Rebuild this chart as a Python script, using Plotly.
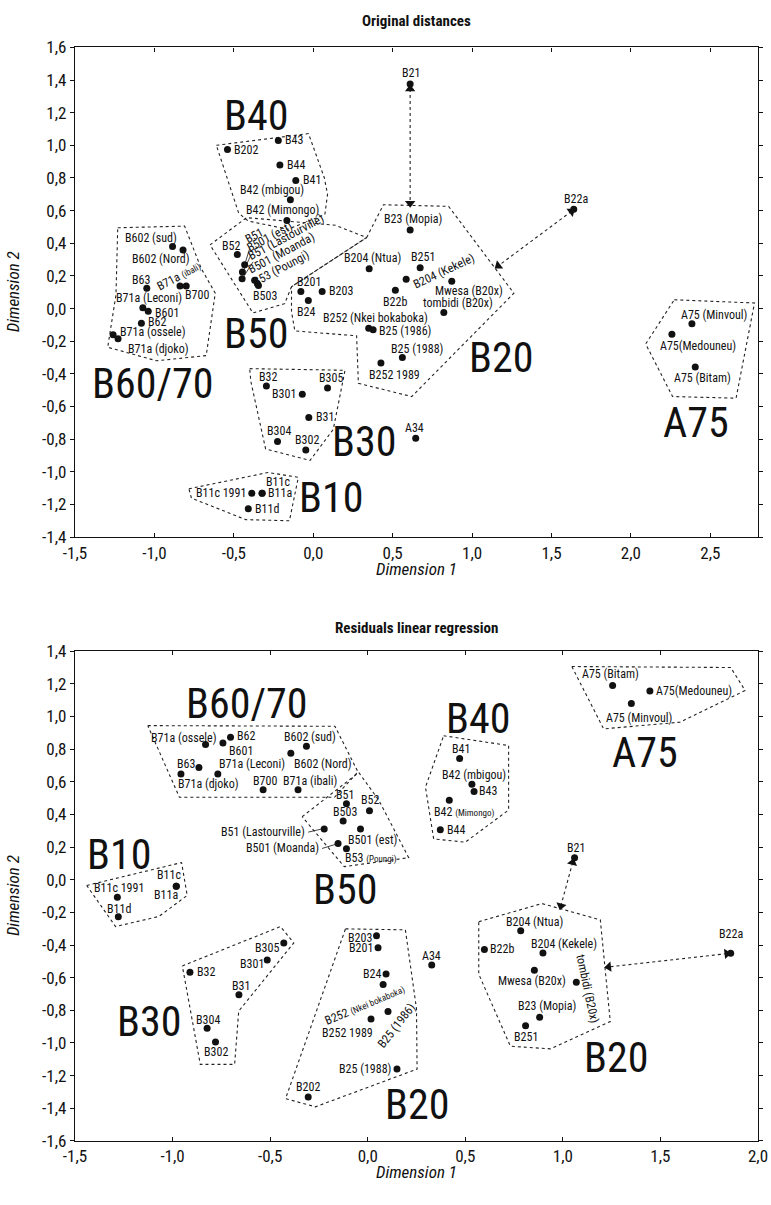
import math
import plotly.graph_objects as go

FONT = "Liberation Sans Narrow, Arial Narrow, Roboto Condensed, Liberation Sans, sans-serif"

# ---------------- Top chart: Original distances ----------------
top_names = ["B21", "B202", "B43", "B44", "B41", "B42 (mbigou)", "B42 (Mimongo)", "B23 (Mopia)", "B22a",
             "B602 (sud)", "B602 (Nord)", "B63", "B71a (ibali)", "B700", "B71a (Leconi)", "B601", "B62",
             "B71a (ossele)", "B71a (djoko)", "B52", "B51", "B501 (est)", "B51 (Lastourville)",
             "B501 (Moanda)", "B53 (Poungi)", "B503", "B201", "B203", "B24", "B204 (Ntua)", "B251",
             "B204 (Kekele)", "Mwesa (B20x)", "B22b", "tombidi (B20x)", "B252 (Nkei bokaboka)",
             "B25 (1986)", "B25 (1988)", "B252 1989", "A75 (Minvoul)", "A75(Medouneu)", "A75 (Bitam)",
             "B32", "B305", "B301", "B31", "B304", "B302", "A34", "B11c 1991", "B11a", "B11c", "B11d"]
top_x = [0.61, -0.54, -0.22, -0.21, -0.11, -0.144, -0.166, 0.61, 1.64,
         -0.886, -0.82, -1.048, -0.839, -0.80, -1.073, -1.039, -1.082,
         -1.26, -1.229, -0.478, -0.432, -0.446, -0.448,
         -0.369, -0.352, -0.345, -0.078, 0.056, -0.031, 0.352, 0.673,
         0.585, 0.872, 0.517, 0.822, 0.349,
         0.377, 0.561, 0.426, 2.384, 2.258, 2.405,
         -0.295, 0.09, -0.069, -0.028, -0.225, -0.047, 0.645, -0.387, -0.322, -0.322, -0.409]
top_y = [1.375, 0.975, 1.03, 0.88, 0.785, 0.666, 0.539, 0.481, 0.608,
         0.38, 0.359, 0.124, 0.138, 0.138, 0.005, -0.016, -0.09,
         -0.16, -0.185, 0.331, 0.269, 0.224, 0.182,
         0.174, 0.152, 0.142, 0.105, 0.105, 0.05, 0.244, 0.25,
         0.179, 0.167, 0.112, -0.024, -0.121,
         -0.13, -0.30, -0.333, -0.093, -0.157, -0.358,
         -0.475, -0.487, -0.525, -0.667, -0.815, -0.866, -0.795, -1.131, -1.131, -1.131, -1.226]

top_groups = ["B40", "B50", "B60/70", "B20", "B30", "B10", "A75"]
top_group_x = [-0.36, -0.36, -1.01, 1.18, 0.32, 0.11, 2.41]
top_group_y = [1.18, -0.15, -0.46, -0.30, -0.815, -1.16, -0.70]

top_hulls = {
    "B40": ([-0.61, -0.03, 0.07, 0.09, 0.073, -0.158, -0.41, -0.47],
            [1.0, 1.072, 0.80, 0.70, 0.576, 0.486, 0.536, 0.586]),
    "B50": ([-0.65, -0.42, 0.14, 0.336, -0.137, -0.18, -0.38],
            [0.39, 0.557, 0.51, 0.435, 0.134, 0.03, -0.027]),
    "B20": ([0.336, 0.442, 0.852, 1.263, 0.62, 0.284, 0.273, -0.116, -0.137, -0.137],
            [0.435, 0.636, 0.626, 0.094, -0.539, -0.458, -0.167, -0.137, -0.017, 0.134]),
    "B60/70": ([-1.231, -0.81, -0.705, -0.617, -0.674, -0.986, -1.294, -1.242],
               [0.495, 0.505, 0.245, 0.094, -0.288, -0.32, -0.237, 0.084]),
    "B30": ([-0.40, 0.20, 0.126, -0.02, -0.30, -0.393],
            [-0.368, -0.378, -0.74, -0.93, -0.86, -0.446]),
    "B10": ([-0.783, -0.284, -0.094, -0.15, -0.425, -0.767],
            [-1.104, -1.004, -1.034, -1.30, -1.293, -1.161]),
    "A75": ([2.273, 2.778, 2.662, 2.262, 2.093],
            [0.054, 0.034, -0.549, -0.539, -0.217]),
}
# double-headed dotted arrows: (tip1, tip2)
top_arrows = [((0.61, 1.345), (0.61, 0.645)), ((1.625, 0.595), (1.165, 0.262))]

# ---------------- Bottom chart: Residuals linear regression ----------------
bot_names = ["A75 (Bitam)", "A75(Medouneu)", "A75 (Minvoul)", "B71a (ossele)", "B62", "B601", "B602 (sud)",
             "B602 (Nord)", "B63", "B71a (djoko)", "B71a (Leconi)", "B700", "B71a (ibali)",
             "B51", "B52", "B503", "B51 (Lastourville)", "B501 (est)", "B501 (Moanda)", "B53 (Poungi)",
             "B41", "B42 (mbigou)", "B43", "B42 (Mimongo)", "B44", "B21", "B22a",
             "B204 (Ntua)", "B22b", "B204 (Kekele)", "Mwesa (B20x)", "tombidi (B20x)", "B23 (Mopia)", "B251",
             "A34", "B203", "B201", "B24", "B252 (Nkei bokaboka)", "B25 (1986)", "B252 1989", "B25 (1988)",
             "B202", "B11c", "B11a", "B11c 1991", "B11d", "B305", "B301", "B32", "B31", "B304", "B302"]
bot_x = [1.255, 1.446, 1.351, -0.831, -0.703, -0.742, -0.314,
         -0.394, -0.865, -0.957, -0.768, -0.536, -0.357,
         -0.109, 0.009, -0.126, -0.223, -0.037, -0.152, -0.109,
         0.471, 0.534, 0.545, 0.418, 0.372, 1.06, 1.86,
         0.784, 0.598, 0.898, 0.854, 1.069, 0.881, 0.809,
         0.328, 0.045, 0.053, 0.094, 0.079, 0.104, 0.017, 0.15,
         -0.305, -0.981, -0.981, -1.283, -1.278, -0.43, -0.515, -0.911, -0.66, -0.823, -0.78]
bot_y = [1.189, 1.156, 1.079, 0.828, 0.872, 0.838, 0.818,
         0.774, 0.687, 0.647, 0.647, 0.551, 0.551,
         0.465, 0.422, 0.36, 0.31, 0.31, 0.222, 0.189,
         0.743, 0.585, 0.541, 0.487, 0.306, 0.135, -0.451,
         -0.313, -0.427, -0.449, -0.554, -0.628, -0.843, -0.895,
         -0.523, -0.343, -0.417, -0.578, -0.642, -0.808, -0.853, -1.16,
         -1.331, -0.04, -0.04, -0.108, -0.227, -0.387, -0.492, -0.567, -0.704, -0.91, -0.994]

bot_groups = ["B60/70", "B40", "A75", "B10", "B50", "B30", "B20", "B20"]
bot_group_x = [-0.62, 0.565, 1.42, -1.273, -0.115, -1.122, 0.25, 1.27]
bot_group_y = [1.082, 0.989, 0.78, 0.152, -0.057, -0.87, -1.38, -1.091]

bot_hulls = {
    "B60/70": ([-1.127, -0.168, -0.05, -0.17, -0.965], [0.944, 0.94, 0.66, 0.505, 0.505]),
    "B50": ([-0.336, -0.046, 0.057, 0.21, -0.12], [0.386, 0.657, 0.487, 0.135, 0.08]),
    "B40": ([0.389, 0.722, 0.722, 0.5, 0.338, 0.296], [0.882, 0.822, 0.427, 0.23, 0.25, 0.567]),
    "A75": ([1.046, 1.86, 1.934, 1.6, 1.209], [1.306, 1.3, 1.159, 0.965, 0.924]),
    "B10": ([-1.44, -0.954, -0.925, -1.07, -1.292], [-0.035, 0.105, -0.096, -0.225, -0.287]),
    "B30": ([-0.95, -0.447, -0.379, -0.661, -0.682, -0.858], [-0.528, -0.287, -0.387, -0.805, -1.131, -1.131]),
    "B20a": ([-0.114, 0.193, 0.25, 0.253, -0.268, -0.421], [-0.301, -0.307, -0.79, -1.16, -1.391, -1.341]),
    "B20b": ([0.569, 0.893, 1.192, 1.243, 0.936, 0.731, 0.569], [-0.257, -0.146, -0.246, -0.869, -1.036, -1.02, -0.578]),
}
bot_arrows = [((1.05, 0.105), (0.99, -0.16)), ((1.84, -0.453), (1.235, -0.534))]

# ---------------- label styling (mode, dx px, dy px (down), angle) ----------------
# mode: 'c' centered, 'l' left-anchored, 'r' right-anchored
TOP_STYLE = {
    "B21": ("c", 1, -11, 0), "B202": ("l", 5, 1, 0), "B43": ("l", 5, 0, 0), "B44": ("l", 5, 0, 0),
    "B41": ("l", 5, 0, 0), "B42 (mbigou)": ("c", -18, -10, 0), "B42 (Mimongo)": ("c", -4, -11, 0),
    "B23 (Mopia)": ("c", 3, -11, 0), "B22a": ("c", 2, -10, 0), "B602 (sud)": ("c", -22, -9, 0),
    "B602 (Nord)": ("c", -22, 9, 0), "B63": ("c", -6, -8, 0), "B71a (ibali)": ("c", -1, -10, -28),
    "B700": ("c", 11, 9, 0), "B71a (Leconi)": ("c", 6, -10, 0), "B601": ("l", 5, 2, 0),
    "B62": ("l", 5, -1, 0), "B71a (ossele)": ("l", 5, -3, 0), "B71a (djoko)": ("c", 40, 10, 0),
    "B52": ("c", -6, -9, 0), "B51": ("c", 9, -29, -28), "B501 (est)": ("c", 27, -35, -28),
    "B51 (Lastourville)": ("c", 44, -42, -28), "B501 (Moanda)": ("c", 27, -27, -28),
    "B53 (Poungi)": ("c", 24, -16, -28), "B503": ("c", 7, 11, 0), "B201": ("c", 8, -9, 0),
    "B203": ("l", 5, 0, 0), "B24": ("c", -2, 12, 0), "B204 (Ntua)": ("c", 3, -11, 0),
    "B251": ("c", 3, -11, 0), "B204 (Kekele)": ("c", 38, -8, -25), "Mwesa (B20x)": ("c", 17, 10, 0),
    "B22b": ("c", 0, 12, 0), "tombidi (B20x)": ("c", 14, -9, 0), "B252 (Nkei bokaboka)": ("c", 7, -10, 0),
    "B25 (1986)": ("l", 4, 1, 0), "B25 (1988)": ("c", 15, -9, 0), "B252 1989": ("c", 14, 12, 0),
    "A75 (Minvoul)": ("c", 22, -9, 0), "A75(Medouneu)": ("c", 26, 12, 0), "A75 (Bitam)": ("c", 7, 11, 0),
    "B32": ("c", 2, -9, 0), "B305": ("c", 3, -10, 0), "B301": ("r", -4, 0, 0), "B31": ("l", 5, 0, 0),
    "B304": ("c", 1, -11, 0), "B302": ("c", 1, -10, 0), "A34": ("c", -1, -10, 0),
    "B11c 1991": ("r", -4, 0, 0), "B11a": ("l", 4, 0, 0), "B11c": ("c", 16, -11, 0), "B11d": ("l", 5, 0, 0),
}
BOT_STYLE = {
    "A75 (Bitam)": ("c", -2, -12, 0), "A75(Medouneu)": ("l", 4, 0, 0), "A75 (Minvoul)": ("c", 8, 14, 0),
    "B71a (ossele)": ("c", -22, -7, 0), "B62": ("l", 4, -1, 0), "B601": ("c", 18, 8, 0),
    "B602 (sud)": ("c", 4, -9, 0), "B602 (Nord)": ("c", 32, 11, 0), "B63": ("c", -13, -4, 0),
    "B71a (djoko)": ("c", 28, 10, 0), "B71a (Leconi)": ("c", 34, -10, 0), "B700": ("c", 2, -9, 0),
    "B71a (ibali)": ("c", 12, -9, 0), "B51": ("c", -1, -9, 0), "B52": ("c", 1, -11, 0),
    "B503": ("c", 2, -9, 0), "B51 (Lastourville)": ("r", -17, 3, 0), "B501 (est)": ("c", 12, 11, 0),
    "B501 (Moanda)": ("r", -17, 5, 0), "B53 (Poungi)": ("c", 25, 9, 0), "B41": ("c", 1, -9, 0),
    "B42 (mbigou)": ("c", 2, -9, 0), "B43": ("l", 3, 0, 0), "B42 (Mimongo)": ("c", 15, 12, 0),
    "B44": ("l", 5, 0, 0), "B21": ("c", 1, -10, 0), "B22a": ("c", 0, -19, 0),
    "B204 (Ntua)": ("c", 14, -9, 0), "B22b": ("l", 4, 0, 0), "B204 (Kekele)": ("c", 21, -9, 0),
    "Mwesa (B20x)": ("c", -2, 11, 0), "tombidi (B20x)": ("c", 11, 7, 78), "B23 (Mopia)": ("c", 7, -11, 0),
    "B251": ("c", 0, 11, 0), "A34": ("c", 0, -9, 0), "B203": ("r", -3, 2, 0), "B201": ("r", -3, 0, 0),
    "B24": ("r", -3, 0, 0), "B252 (Nkei bokaboka)": ("c", -19, 20, -23), "B25 (1986)": ("c", 8, 14, -52),
    "B252 1989": ("c", -24, 14, 0), "B25 (1988)": ("r", -4, 0, 0), "B202": ("c", 0, -10, 0),
    "B11c": ("c", -7, -11, 0), "B11a": ("c", -10, 9, 0), "B11c 1991": ("c", 2, -9, 0),
    "B11d": ("c", 1, -8, 0), "B305": ("c", -17, 5, 0), "B301": ("c", -15, 4, 0), "B32": ("l", 5, 0, 0),
    "B31": ("c", 2, -9, 0), "B304": ("c", 1, -8, 0), "B302": ("c", 0, 10, 0),
}
# leader lines (x0, y0, x1, y1) in px relative to the point, y downward
TOP_LEADERS = {"B51": (1, -3, 5, -16), "B501 (est)": (2, -3, 9, -18), "B51 (Lastourville)": (2, -3, 11, -17)}
BOT_LEADERS = {"B51 (Lastourville)": (-16, 3, -3, 0), "B501 (Moanda)": (-16, 5, -3, 1)}

SMALL = "<span style='font-size:9px'>%s</span>"
RICH_TOP = {"B71a (ibali)": "B71a " + SMALL % "(ibali)"}
RICH_BOT = {
    "B42 (Mimongo)": "B42 " + SMALL % "(Mimongo)",
    "B53 (Poungi)": "B53 " + SMALL % "(Poungi)",
    "B252 (Nkei bokaboka)": "B252 " + SMALL % "(Nkei bokaboka)",
}

# ---------------- layout geometry ----------------
W, H = 771, 1205
ML, MR = 75, 13
TOP_PX = (38, 536)
BOT_PX = (652, 1150)
TOP_XR, TOP_YR = [-1.5, 2.8], [-1.4, 1.6]
BOT_XR, BOT_YR = [-1.5, 2.0], [-1.6, 1.4]


def dom(px):
    return [1 - px[1] / H, 1 - px[0] / H]


def ticks(a, b, step):
    n = int(round((b - a) / step))
    vals = [round(a + i * step, 2) for i in range(n + 1)]
    txt = [("%.1f" % v).replace(".", ",").replace("-0,0", "0,0") for v in vals]
    return vals, txt


fig = go.Figure()
annotations = []
shapes = []


def add_panel(xa, ya, names, xs, ys, hulls, groups, gx, gy, arrows, style, rich, leaders, xr, yr, px_rng):
    for key, (hx, hy) in hulls.items():
        fig.add_trace(go.Scatter(x=hx + [hx[0]], y=hy + [hy[0]], mode="lines", xaxis=xa, yaxis=ya,
                                 line=dict(color="#222", width=1.1, dash="dot"), hoverinfo="skip",
                                 showlegend=False))
    kx = (W - ML - MR) / (xr[1] - xr[0])
    ky = (px_rng[1] - px_rng[0]) / (yr[1] - yr[0])
    for (p1, p2) in arrows:
        fig.add_trace(go.Scatter(x=[p1[0], p2[0]], y=[p1[1], p2[1]], mode="lines", xaxis=xa, yaxis=ya,
                                 line=dict(color="#222", width=1.1, dash="dot"), hoverinfo="skip",
                                 showlegend=False))
        angs = []
        for a, b in ((p2, p1), (p1, p2)):
            dx, dy = b[0] - a[0], b[1] - a[1]
            angs.append(math.degrees(math.atan2(dx * kx, dy * ky)))
        fig.add_trace(go.Scatter(x=[p1[0], p2[0]], y=[p1[1], p2[1]], mode="markers", xaxis=xa, yaxis=ya,
                                 marker=dict(symbol="triangle-up", size=9, color="#111", angle=angs),
                                 hoverinfo="skip", showlegend=False))
    fig.add_trace(go.Scatter(x=xs, y=ys, mode="markers", xaxis=xa, yaxis=ya,
                             marker=dict(size=7, color="#111"), text=names, hoverinfo="text",
                             showlegend=False))
    for n, x, y in zip(names, xs, ys):
        mode, dx, dy, ang = style[n]
        annotations.append(dict(x=x, y=y, xref=xa, yref=ya, text=rich.get(n, n), showarrow=False,
                                font=dict(family=FONT, size=12, color="#111"), textangle=ang,
                                xshift=dx, yshift=-dy, yanchor="middle",
                                xanchor={"c": "center", "l": "left", "r": "right"}[mode]))
        if n in leaders:
            x0, y0, x1, y1 = leaders[n]
            shapes.append(dict(type="line", xref=xa, yref=ya, xsizemode="pixel", ysizemode="pixel",
                               xanchor=x, yanchor=y, x0=x0, y0=-y0, x1=x1, y1=-y1,
                               line=dict(color="#111", width=0.8)))
    for g, x, y in zip(groups, gx, gy):
        annotations.append(dict(x=x, y=y, xref=xa, yref=ya, text=g, showarrow=False,
                                font=dict(family=FONT, size=42, color="#111"),
                                xanchor="center", yanchor="middle"))


add_panel("x", "y", top_names, top_x, top_y, top_hulls, top_groups, top_group_x, top_group_y,
          top_arrows, TOP_STYLE, RICH_TOP, TOP_LEADERS, TOP_XR, TOP_YR, TOP_PX)
add_panel("x2", "y2", bot_names, bot_x, bot_y, bot_hulls, bot_groups, bot_group_x, bot_group_y,
          bot_arrows, BOT_STYLE, RICH_BOT, BOT_LEADERS, BOT_XR, BOT_YR, BOT_PX)


def ptitle(text, ypx, size, bold=False, italic=False, xpx=None, angle=0):
    if bold:
        text = "<b>%s</b>" % text
    if italic:
        text = "<i>%s</i>" % text
    xp = 0.5 if xpx is None else (xpx - ML) / (W - ML - MR)
    annotations.append(dict(x=xp, y=1 - ypx / H, xref="paper", yref="paper", text=text, showarrow=False,
                            font=dict(family=FONT, size=size, color="#111"),
                            xanchor="center", yanchor="middle", textangle=angle))


ptitle("Original distances", 11, 15, bold=True)
ptitle("Dimension 1", 568, 17, italic=True)
ptitle("Dimension 2", 287, 17, italic=True, xpx=13, angle=-90)
ptitle("Residuals linear regression", 628, 15, bold=True)
ptitle("Dimension 1", 1182, 17, italic=True)
ptitle("Dimension 2", 901, 17, italic=True, xpx=13, angle=-90)

axis_common = dict(showgrid=False, zeroline=False, showline=True, linecolor="#111", linewidth=1.3,
                   mirror="ticks", ticklen=4, tickcolor="#111",
                   tickfont=dict(family=FONT, size=17, color="#111"))

txv, txt = ticks(-1.5, 2.5, 0.5)
tyv, tyt = ticks(-1.4, 1.6, 0.2)
bxv, bxt = ticks(-1.5, 2.0, 0.5)
byv, byt = ticks(-1.6, 1.4, 0.2)

fig.update_layout(
    width=W, height=H, margin=dict(l=ML, r=MR, t=0, b=0), paper_bgcolor="white", plot_bgcolor="white",
    xaxis=dict(domain=[0, 1], range=TOP_XR, tickvals=txv, ticktext=txt, anchor="y", ticks="inside",
               **axis_common),
    yaxis=dict(domain=dom(TOP_PX), range=TOP_YR, tickvals=tyv, ticktext=tyt, anchor="x", ticks="outside",
               **axis_common),
    xaxis2=dict(domain=[0, 1], range=BOT_XR, tickvals=bxv, ticktext=bxt, anchor="y2", ticks="inside",
                **axis_common),
    yaxis2=dict(domain=dom(BOT_PX), range=BOT_YR, tickvals=byv, ticktext=byt, anchor="x2", ticks="outside",
                **axis_common),
    annotations=annotations, shapes=shapes, showlegend=False,
)

fig.write_html("out.html", config={"displayModeBar": False},
               post_script="document.body.style.margin='0px';")
